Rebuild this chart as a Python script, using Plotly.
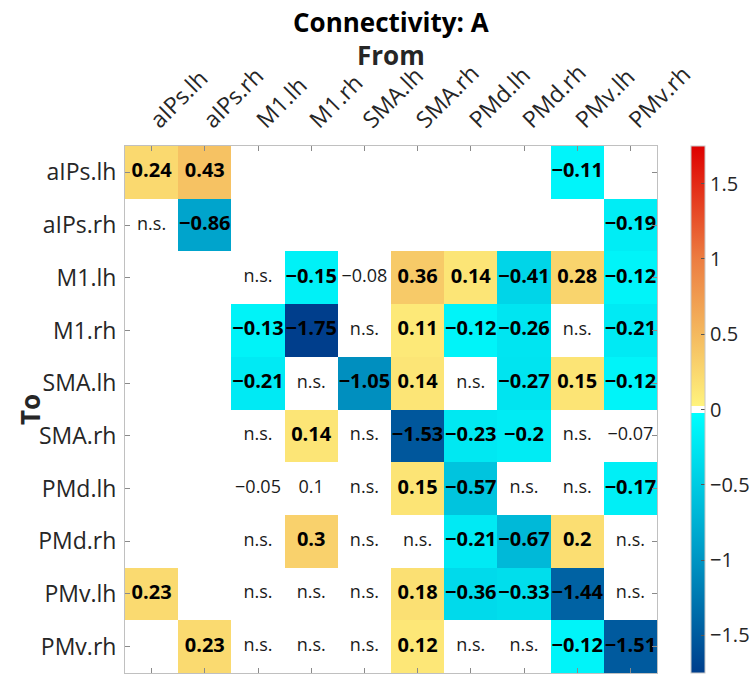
import plotly.graph_objects as go

# Regions of the network (same order for sources and targets)
regions = ["aIPs.lh", "aIPs.rh", "M1.lh", "M1.rh", "SMA.lh",
           "SMA.rh", "PMd.lh", "PMd.rh", "PMv.lh", "PMv.rh"]

NS = "n.s."
# Rows: target region ("To"); columns: source region ("From").
# None = connection not in the model, NS = not significant.
A = [
    [0.24, 0.43, None, None, None, None, None, None, -0.11, None],
    [NS, -0.86, None, None, None, None, None, None, None, -0.19],
    [None, None, NS, -0.15, -0.08, 0.36, 0.14, -0.41, 0.28, -0.12],
    [None, None, -0.13, -1.75, NS, 0.11, -0.12, -0.26, NS, -0.21],
    [None, None, -0.21, NS, -1.05, 0.14, NS, -0.27, 0.15, -0.12],
    [None, None, NS, 0.14, NS, -1.53, -0.23, -0.2, NS, -0.07],
    [None, None, -0.05, 0.1, NS, 0.15, -0.57, NS, NS, -0.17],
    [None, None, NS, 0.3, NS, NS, -0.21, -0.67, 0.2, NS],
    [0.23, None, NS, NS, NS, 0.18, -0.36, -0.33, -1.44, NS],
    [None, 0.23, NS, NS, NS, 0.12, NS, NS, -0.12, -1.51],
]

# Parameters printed as plain numbers, without a colour patch
weak_cells = [(2, 4), (5, 9), (6, 2), (6, 3)]

colorbar_ticks = [-1.5, -1, -0.5, 0, 0.5, 1, 1.5]
clim = 1.75

FONT = "Open Sans"


def fmt(v):
    return f"{v:g}".replace("-", "\u2212")


def pos(v):
    return (v + clim) / (2 * clim)


# Diverging map: blue -> cyan | white at zero | yellow -> orange -> red
colorscale = [
    [pos(-1.75), "rgb(0,62,140)"],
    [pos(-0.90), "rgb(0,160,202)"],
    [pos(-0.02), "rgb(0,255,255)"],
    [pos(-0.02), "rgb(255,255,255)"],
    [pos(0.025), "rgb(255,255,255)"],
    [pos(0.025), "rgb(255,243,125)"],
    [pos(0.50), "rgb(244,185,95)"],
    [pos(1.00), "rgb(236,125,65)"],
    [pos(1.75), "rgb(222,0,0)"],
]

z = []
sig_x, sig_y, sig_t = [], [], []
plain_x, plain_y, plain_t = [], [], []
for i, row in enumerate(A):
    zrow = []
    for j, v in enumerate(row):
        if v is None:
            zrow.append(None)
        elif v == NS:
            zrow.append(None)
            plain_x.append(regions[j]); plain_y.append(regions[i]); plain_t.append(NS)
        elif (i, j) in weak_cells:
            zrow.append(None)
            plain_x.append(regions[j]); plain_y.append(regions[i]); plain_t.append(fmt(v))
        else:
            zrow.append(v)
            sig_x.append(regions[j]); sig_y.append(regions[i]); sig_t.append(fmt(v))
    z.append(zrow)

fig = go.Figure()
fig.add_trace(go.Heatmap(
    z=z, x=regions, y=regions,
    zmin=-clim, zmax=clim,
    colorscale=colorscale,
    hoverongaps=False,
    colorbar=dict(
        x=(691 - 125) / 532, xanchor="left",
        y=0.5, yanchor="middle", len=1.0, lenmode="fraction",
        thickness=14, xpad=0, ypad=0,
        outlinewidth=1, outlinecolor="#c8c8c8",
        tickvals=colorbar_ticks,
        ticktext=[fmt(t) for t in colorbar_ticks],
        ticks="inside", ticklen=4, tickcolor="#555555",
        tickfont=dict(family=FONT, size=20, color="#262626"),
    ),
))
fig.add_trace(go.Scatter(
    x=sig_x, y=sig_y, text=sig_t, mode="text",
    textfont=dict(family=FONT, size=20, color="black", weight="bold"),
    hoverinfo="skip", showlegend=False,
))
fig.add_trace(go.Scatter(
    x=plain_x, y=plain_y, text=plain_t, mode="text",
    textfont=dict(family=FONT, size=18, color="#1a1a1a"),
    hoverinfo="skip", showlegend=False,
))

axis_common = dict(
    type="category", showgrid=False, zeroline=False,
    showline=True, linecolor="#c0c0c0", linewidth=1, mirror="allticks",
    ticks="inside", ticklen=5, tickcolor="#8a8a8a",
    tickfont=dict(family=FONT, size=23, color="#262626"),
)

fig.update_layout(
    width=756, height=675,
    margin=dict(l=125, r=99, t=146, b=2, autoexpand=False),
    paper_bgcolor="white", plot_bgcolor="white",
    xaxis=dict(axis_common, side="top", tickangle=-45, range=[-0.5, 9.5],
               ticklabelstandoff=3),
    yaxis=dict(axis_common, range=[9.5, -0.5], ticklabelstandoff=3),
    annotations=[
        dict(text="<b>Connectivity: A</b>", x=0.5, y=(673 - 22) / 527,
             xref="paper", yref="paper", xanchor="center", yanchor="middle",
             showarrow=False,
             font=dict(family=FONT, size=26, color="black")),
        dict(text="<b>From</b>", x=0.5, y=(673 - 55) / 527,
             xref="paper", yref="paper", xanchor="center", yanchor="middle",
             showarrow=False,
             font=dict(family=FONT, size=26, color="#262626")),
        dict(text="<b>To</b>", x=(30 - 125) / 532, y=(673 - 410) / 527,
             xref="paper", yref="paper", xanchor="center", yanchor="middle",
             showarrow=False, textangle=-90,
             font=dict(family=FONT, size=26, color="#262626")),
    ],
)

fig.write_html("out.html")
